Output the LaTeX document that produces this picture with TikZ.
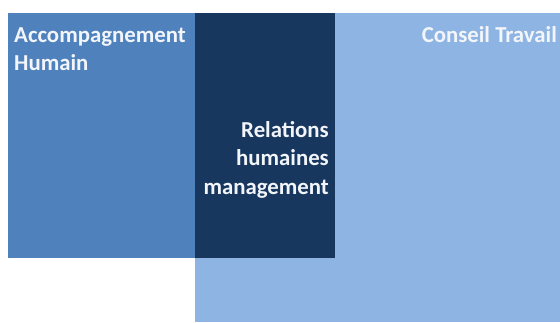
\documentclass[tikz,border=0pt]{standalone}
\usepackage{fontspec}
\setmainfont{Carlito}
\definecolor{midblue}{HTML}{4F81BD}
\definecolor{darkblue}{HTML}{17375E}
\definecolor{lightblue}{HTML}{8EB4E3}
\definecolor{txt}{HTML}{F2F5FA}
\begin{document}
\begin{tikzpicture}[x=1pt,y=-1pt,
  lbl/.style={font=\bfseries\fontsize{22.8}{28.5}\selectfont, text=txt, inner sep=0pt, align=left}]
\useasboundingbox (0,0) rectangle (560,322);
\fill[midblue] (8,13) rectangle (195,258);
\fill[lightblue] (195,13) rectangle (560,322);
\fill[darkblue] (195,13) rectangle (335,258);
\node[lbl, anchor=base west] (acc) at (14,70.5) {Accompagnement\\Humain};
\node[lbl, anchor=base east] (ct) at (557,42) {Conseil Travail};
\node[lbl, anchor=base east, align=right] (rh) at (329,194) {Relations\\humaines\\management};
\end{tikzpicture}
\end{document}
